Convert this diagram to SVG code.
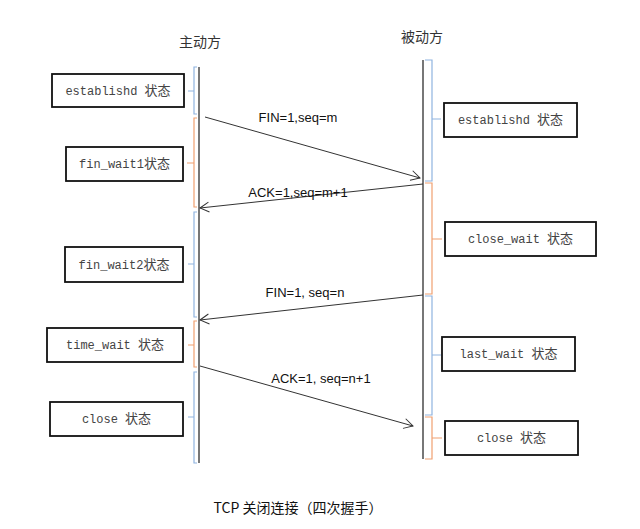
<svg xmlns="http://www.w3.org/2000/svg" width="640" height="529" viewBox="0 0 640 529">
<defs>
<style>
.life{stroke:#555;stroke-width:1.6;fill:none}
.bb{stroke:#8fb4e0;stroke-width:1.2;fill:none}
.ob{stroke:#f0a070;stroke-width:1.2;fill:none}
.box{fill:#fff;stroke:#111;stroke-width:1.8}
.bt{font-family:"Liberation Mono","Noto Sans CJK SC",monospace;font-size:12px;fill:#444;text-anchor:middle}
.cj{font-family:"Noto Sans CJK SC",sans-serif;font-size:13px}
.msg{stroke:#333;stroke-width:1;fill:none}
.ml{font-family:"Liberation Sans","Noto Sans CJK SC",sans-serif;font-size:13px;fill:#111;text-anchor:middle}
.title{font-family:"Noto Sans CJK SC",sans-serif;font-size:14px;fill:#333;text-anchor:middle}
</style>
<marker id="arr" markerWidth="12" markerHeight="12" refX="10" refY="6" orient="auto" markerUnits="userSpaceOnUse">
<path d="M1,1 L10,6 L1,11" fill="none" stroke="#333" stroke-width="1"/>
</marker>
</defs>
<rect width="640" height="529" fill="#fff"/>

<text class="title" x="200" y="47">主动方</text>
<text class="title" x="422" y="42">被动方</text>

<g id="lifelines">
<line class="life" x1="199" y1="67" x2="199" y2="463"/>
<line class="life" x1="423" y1="60" x2="423" y2="459"/>
</g>

<g id="braces">
<path class="bb" d="M197,67 H194 V91 H188 M194,91 V114 H197"/>
<path class="ob" d="M197,118 H194 V163 H187 M194,163 V207 H197"/>
<path class="bb" d="M197,212 H194 V264 H188 M194,264 V317 H197"/>
<path class="ob" d="M197,321 H194 V345 H188 M194,345 V367 H197"/>
<path class="bb" d="M197,372 H194 V417 H188 M194,417 V463 H197"/>
<path class="bb" d="M425,60 H432 V119 H441 M432,119 V181 H425"/>
<path class="ob" d="M425,183 H432 V239 H442 M432,239 V294 H425"/>
<path class="bb" d="M425,296 H432 V355 H441 M432,355 V415 H425"/>
<path class="ob" d="M425,417 H432 V438 H442 M432,438 V459 H425"/>
</g>

<g id="connectors">
<line class="msg" x1="205" y1="117" x2="420" y2="178" marker-end="url(#arr)"/>
<line class="msg" x1="423" y1="184" x2="200" y2="208" marker-end="url(#arr)"/>
<line class="msg" x1="423" y1="295" x2="200" y2="320" marker-end="url(#arr)"/>
<line class="msg" x1="200" y1="366" x2="413" y2="426" marker-end="url(#arr)"/>
<text class="ml" x="298" y="122">FIN=1,seq=m</text>
<text class="ml" x="298" y="197">ACK=1,seq=m+1</text>
<text class="ml" x="305" y="297">FIN=1, seq=n</text>
<text class="ml" x="321" y="383">ACK=1, seq=n+1</text>
</g>

<g id="l_establishd"><rect class="box" x="52" y="74" width="132" height="33"/><text class="bt" x="118" y="95">establishd <tspan class="cj">状态</tspan></text></g>
<g id="l_fin_wait1"><rect class="box" x="66" y="147" width="117" height="34"/><text class="bt" x="124.5" y="168">fin_wait1<tspan class="cj">状态</tspan></text></g>
<g id="l_fin_wait2"><rect class="box" x="65" y="247" width="118" height="35"/><text class="bt" x="124" y="269">fin_wait2<tspan class="cj">状态</tspan></text></g>
<g id="l_time_wait"><rect class="box" x="47" y="328" width="136" height="34"/><text class="bt" x="115" y="349">time_wait <tspan class="cj">状态</tspan></text></g>
<g id="l_close"><rect class="box" x="50" y="402" width="133" height="34"/><text class="bt" x="116.5" y="423">close <tspan class="cj">状态</tspan></text></g>

<g id="r_establishd"><rect class="box" x="444" y="103" width="133" height="34"/><text class="bt" x="510.5" y="124">establishd <tspan class="cj">状态</tspan></text></g>
<g id="r_close_wait"><rect class="box" x="445" y="222" width="151" height="34"/><text class="bt" x="520.5" y="243">close_wait <tspan class="cj">状态</tspan></text></g>
<g id="r_last_wait"><rect class="box" x="442" y="337" width="133" height="34"/><text class="bt" x="508.5" y="358">last_wait <tspan class="cj">状态</tspan></text></g>
<g id="r_close"><rect class="box" x="445" y="421" width="133" height="34"/><text class="bt" x="511.5" y="442">close <tspan class="cj">状态</tspan></text></g>

<text class="title" x="298" y="513" style="fill:#111">TCP 关闭连接（四次握手）</text>
</svg>
